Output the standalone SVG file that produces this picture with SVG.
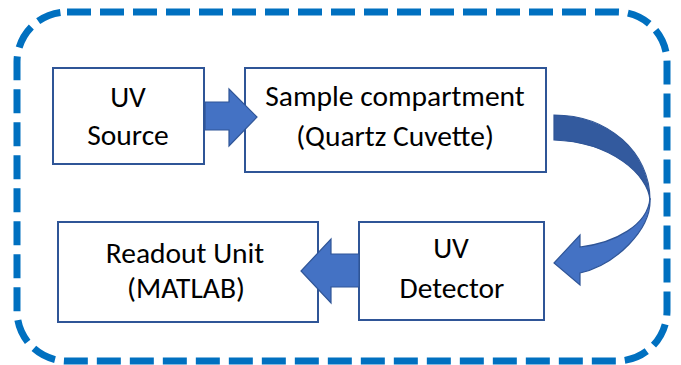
<svg xmlns="http://www.w3.org/2000/svg" width="681" height="365" viewBox="0 0 681 365">
  <style>
    .frame { fill: none; stroke: #0070C0; stroke-width: 7; stroke-dasharray: 24 9; }
    .box { fill: #FFFFFF; stroke: #2F5597; stroke-width: 2; }
    .label { font-family: Carlito, "Liberation Sans", Arial, sans-serif; font-size: 29.5px; fill: #000000; text-anchor: middle; }
    .arrow { fill: #4472C4; stroke: #2F5597; stroke-width: 1.2; stroke-linejoin: miter; }
    .arrow-back { fill: #335A9E; stroke: #2F5597; stroke-width: 1.2; }
  </style>

  <!-- dashed enclosure -->
  <rect class="frame" x="17" y="12" width="650" height="349" rx="50" ry="50"/>

  <g id="uv-source">
    <rect class="box" x="53" y="68" width="151" height="96"/>
    <text class="label" x="128" y="107">UV</text>
    <text class="label" x="128" y="145">Source</text>
  </g>

  <g id="sample-compartment">
    <rect class="box" x="245" y="68" width="301" height="104"/>
    <text class="label" x="395" y="106">Sample compartment</text>
    <text class="label" x="395" y="146">(Quartz Cuvette)</text>
  </g>

  <g id="uv-detector">
    <rect class="box" x="359" y="222" width="185" height="98"/>
    <text class="label" x="451" y="258">UV</text>
    <text class="label" x="452" y="298">Detector</text>
  </g>

  <g id="readout-unit">
    <rect class="box" x="58" y="222" width="260" height="100"/>
    <text class="label" x="185" y="263">Readout Unit</text>
    <text class="label" x="186" y="298">(MATLAB)</text>
  </g>

  <g id="connectors">
    <!-- source to sample: block arrow right -->
    <path class="arrow" d="M205,102 L229,102 L229,89 L257,117 L229,146 L229,130 L205,130 Z"/>
    <!-- sample to detector: curved arrow, lower lit face -->
    <path class="arrow" d="M650,198 C648,225 615,243 580,247 L580,235 L554,263 L580,285 L580,273 C615,265 652,230 650,198 Z"/>
    <!-- curved arrow, shaded back face -->
    <path class="arrow-back" d="M554,115 C608,115 650,152 650,200 C648,175 612,142 554,140 Z"/>
    <!-- detector to readout: block arrow left -->
    <path class="arrow" d="M359,254 L331,254 L331,239 L301,271 L331,303 L331,287 L359,287 Z"/>
  </g>
</svg>
